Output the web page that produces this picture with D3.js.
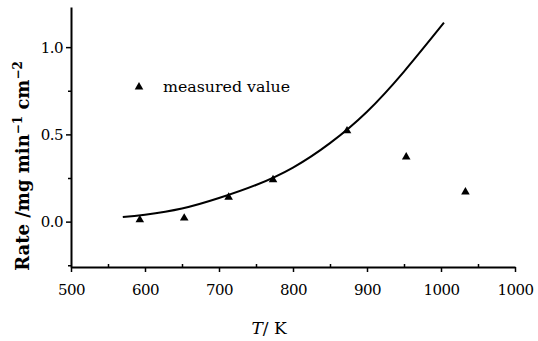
<!DOCTYPE html>
<html>
<head>
<meta charset="utf-8">
<script src="https://cdn.jsdelivr.net/npm/d3@7"></script>
<style>
  body { margin: 0; background: #fff; }
  svg text { font-family: "DejaVu Serif"; }
</style>
</head>
<body>
<div id="result"></div>
<script>
// measured points
const measured_T = [593, 653, 713, 773, 873, 953, 1033];
const measured_rate = [0.01, 0.02, 0.14, 0.24, 0.52, 0.37, 0.17];

// model curve
const curve_T = [570, 600, 650, 700, 750, 800, 850, 900, 950, 1004];
const curve_rate = [0.026, 0.04, 0.075, 0.135, 0.21, 0.31, 0.45, 0.63, 0.86, 1.14];

const x_ticks = [500, 600, 700, 800, 900, 1000, 1100];
const x_tick_labels = ['500', '600', '700', '800', '900', '1000', '1000'];
const x_minor = [550, 650, 750, 850, 950, 1050];
const y_ticks = [0.0, 0.5, 1.0];
const y_minor = [-0.25, 0.25, 0.75];

const serif = 'DejaVu Serif';
const width = 538, height = 341;

const svg = d3.select('#result').append('svg')
  .attr('width', width)
  .attr('height', height)
  .attr('font-family', serif);

const x = d3.scaleLinear().domain([500, 1100]).range([71, 515]);
const y = d3.scaleLinear().domain([-0.26, 1.23]).range([267, 7]);

// x axis
const xAxis = svg.append('g')
  .attr('transform', `translate(0,${y.range()[0]})`)
  .call(d3.axisBottom(x).tickValues(x_ticks)
    .tickFormat((d, i) => x_tick_labels[i]).tickSize(5).tickSizeOuter(0));
svg.append('g')
  .attr('transform', `translate(0,${y.range()[0]})`)
  .call(d3.axisBottom(x).tickValues(x_minor).tickFormat('').tickSize(-3).tickSizeOuter(0))
  .call(g => g.select('.domain').remove());

// y axis
const yAxis = svg.append('g')
  .attr('transform', `translate(${x.range()[0]},0)`)
  .call(d3.axisLeft(y).tickValues(y_ticks).tickFormat(d3.format('.1f')).tickSize(5).tickSizeOuter(0));
svg.append('g')
  .attr('transform', `translate(${x.range()[0]},0)`)
  .call(d3.axisLeft(y).tickValues(y_minor).tickFormat('').tickSize(3).tickSizeOuter(0))
  .call(g => g.select('.domain').remove());

svg.selectAll('g').attr('font-family', serif);
svg.selectAll('.domain').attr('stroke-width', 2);
svg.selectAll('.tick line').attr('stroke-width', 1.5);
xAxis.selectAll('.tick text')
  .attr('font-family', serif)
  .attr('font-size', 15)
  .attr('letter-spacing', -0.5)
  .attr('dy', '1.3em');
yAxis.selectAll('.tick text')
  .attr('font-family', serif)
  .attr('font-size', 15)
  .attr('letter-spacing', -0.5)
  .attr('dy', '0.35em');

// curve
const line = d3.line()
  .x(function(d, i) { return x(curve_T[i]); })
  .y(function(d) { return y(d); })
  .curve(d3.curveNatural);

svg.append('path')
  .datum(curve_rate)
  .attr('d', line)
  .attr('fill', 'none')
  .attr('stroke', '#000')
  .attr('stroke-width', 2);

// measured points
const tri = d3.symbol().type(d3.symbolTriangle).size(32);
svg.append('g').selectAll('path')
  .data(measured_rate)
  .enter().append('path')
  .attr('d', tri)
  .attr('transform', function(d, i) { return `translate(${x(measured_T[i])},${y(d)})`; })
  .attr('fill', '#000');

// legend
svg.append('path')
  .attr('d', tri)
  .attr('transform', 'translate(139,87)')
  .attr('fill', '#000');
svg.append('text')
  .attr('x', 163)
  .attr('y', 92)
  .attr('font-size', 15)
  .attr('textLength', 127)
  .attr('lengthAdjust', 'spacingAndGlyphs')
  .text('measured value');

// axis labels
const xl = svg.append('text')
  .attr('x', 269)
  .attr('y', 334)
  .attr('text-anchor', 'middle')
  .attr('font-size', 17);
xl.append('tspan').attr('font-style', 'italic').text('T');
xl.append('tspan').text('/ K');

const yl = svg.append('text')
  .attr('text-anchor', 'middle')
  .attr('font-size', 18)
  .attr('font-weight', 'bold')
  .attr('transform', 'translate(29,166)rotate(-90)');
yl.append('tspan').text('Rate  /mg min');
yl.append('tspan').attr('font-size', 12).attr('dy', -7).text('\u22121');
yl.append('tspan').attr('dy', 7).text(' cm');
yl.append('tspan').attr('font-size', 12).attr('dy', -7).text('\u22122');
</script>
</body>
</html>
